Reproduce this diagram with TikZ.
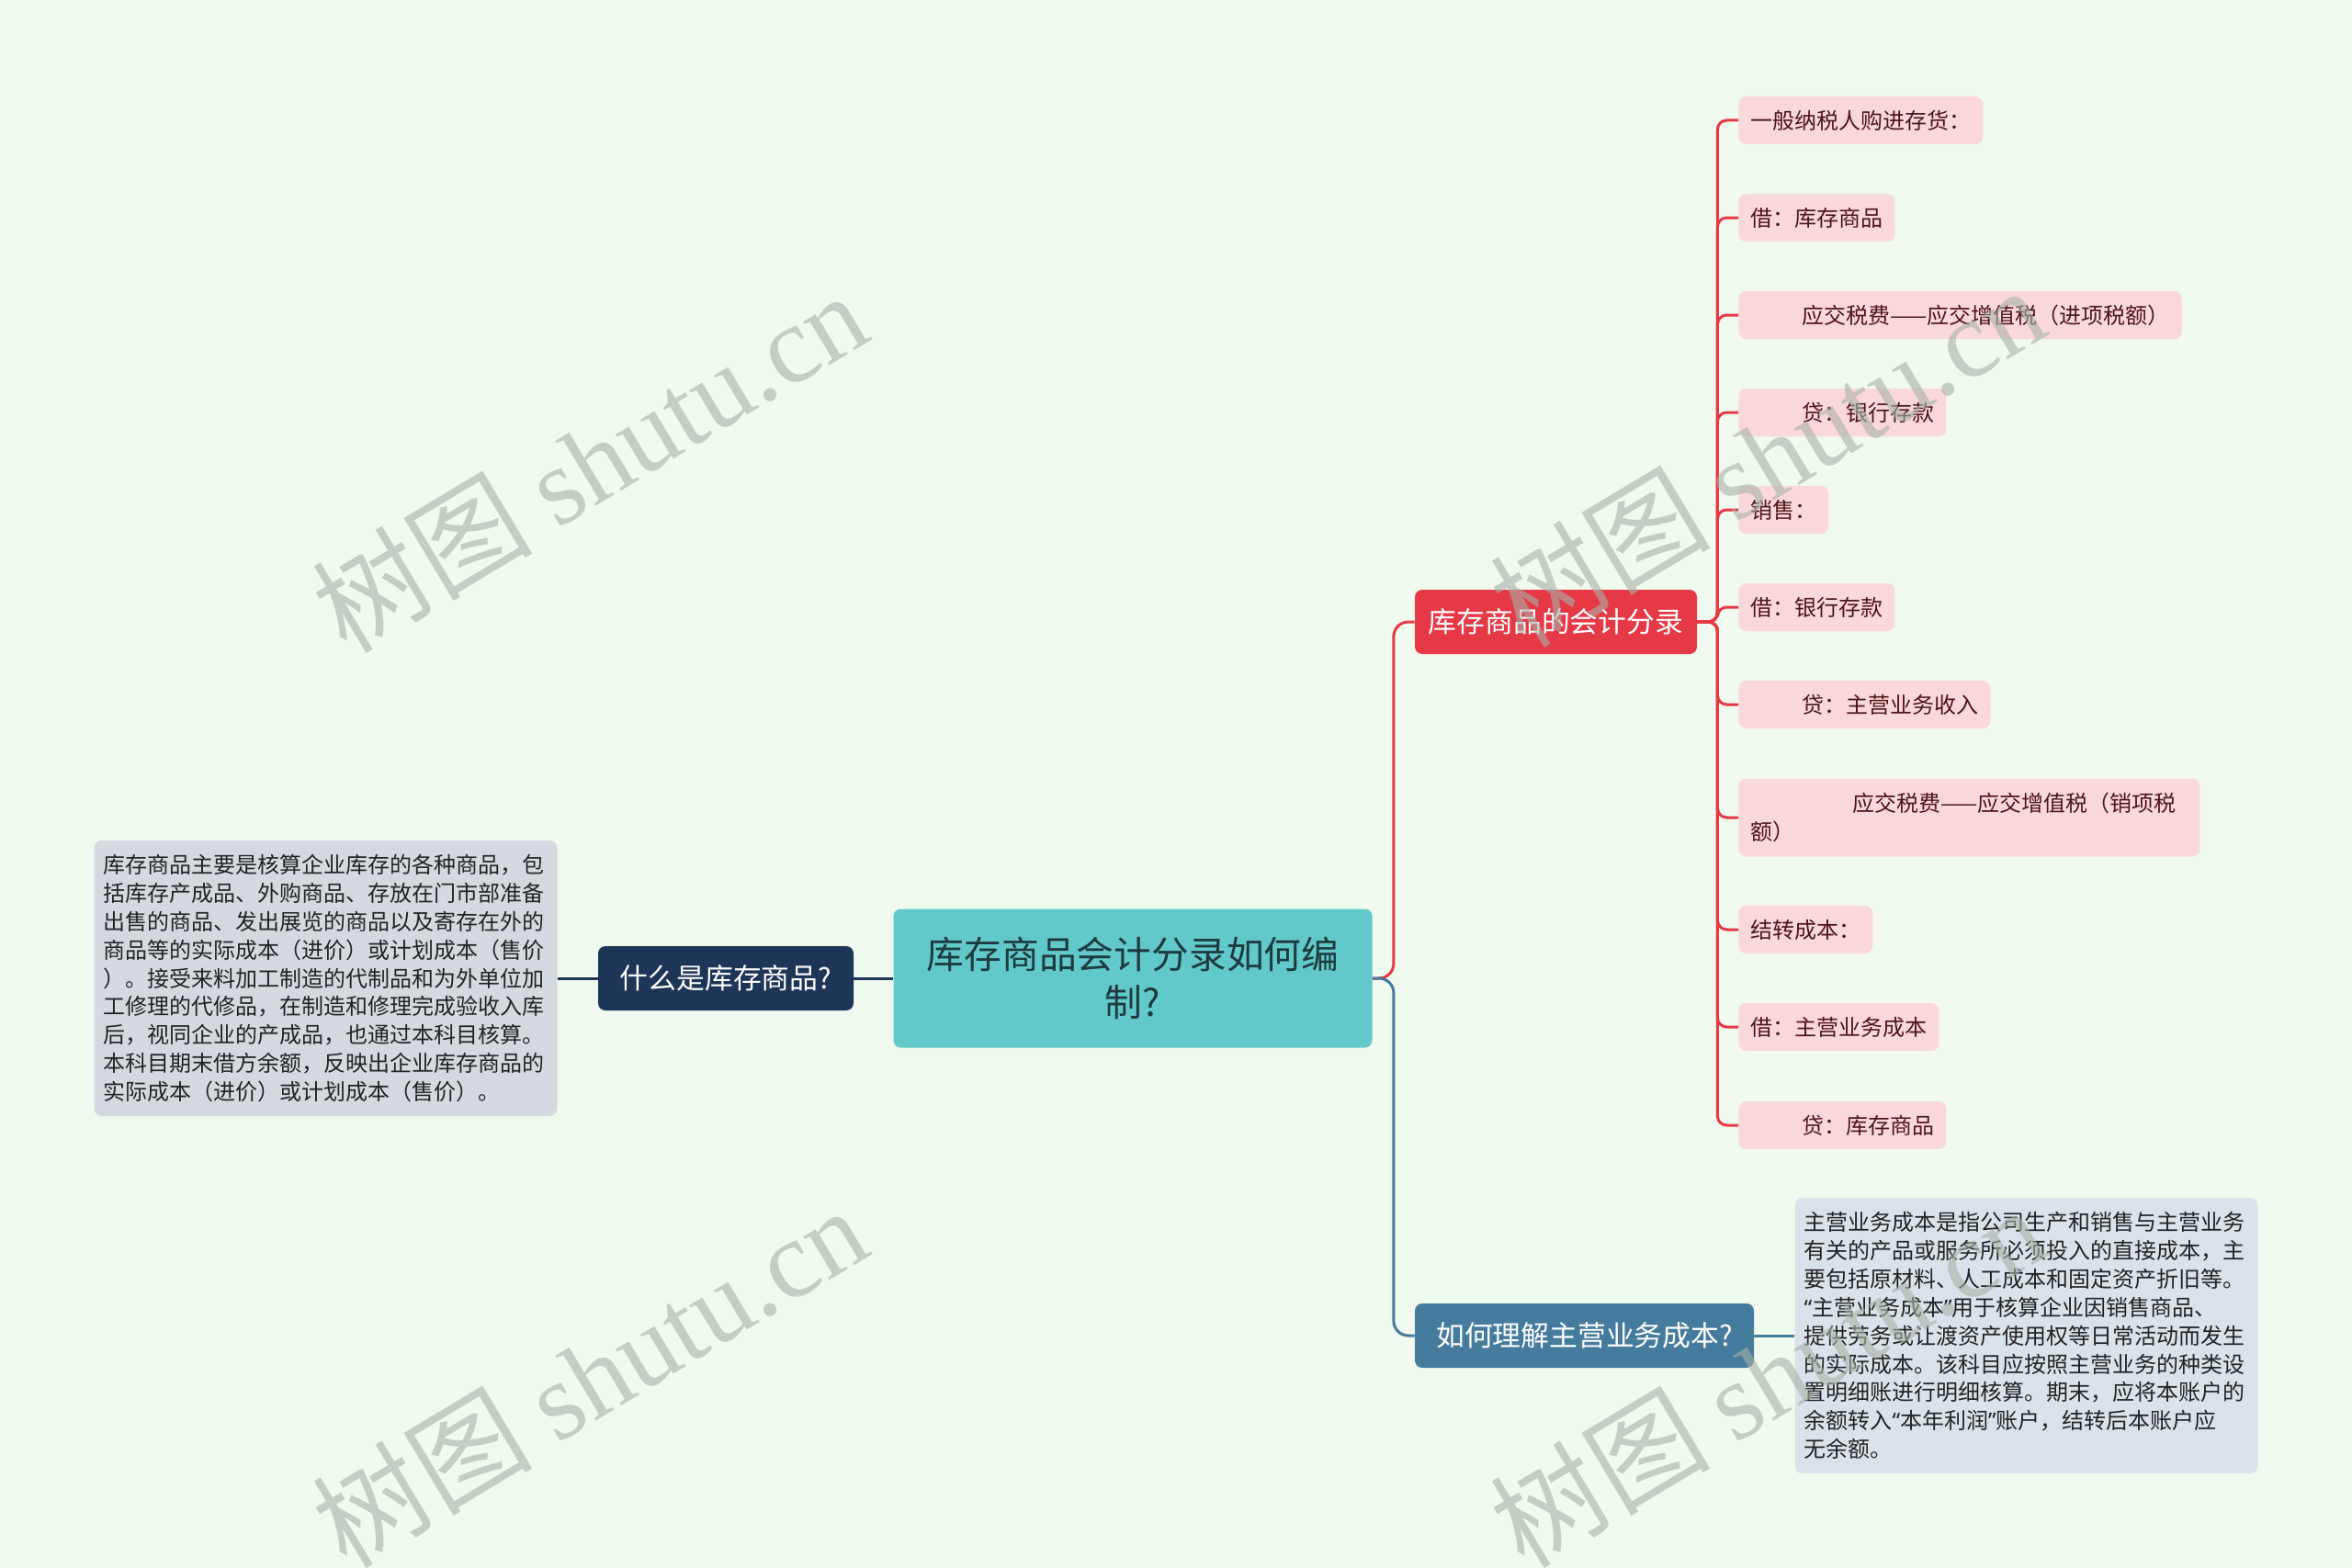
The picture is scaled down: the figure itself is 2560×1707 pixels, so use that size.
\documentclass[tikz,border=0pt]{standalone}
\usepackage{fontspec}
\setmainfont{Noto Sans CJK SC}
\newfontfamily\wmlatin{Liberation Serif}
\newfontfamily\latq{Noto Sans}
\newcommand{\myoq}{{\latq “}}
\newcommand{\mycq}{{\latq ”}}
\definecolor{bgc}{HTML}{F1FAEE}
\definecolor{rootfill}{HTML}{62C9CA}
\definecolor{roottext}{HTML}{1D3A3F}
\definecolor{navy}{HTML}{1D3557}
\definecolor{redc}{HTML}{E63946}
\definecolor{bluec}{HTML}{457B9D}
\definecolor{lboxfill}{HTML}{D5DAE0}
\definecolor{rboxfill}{HTML}{DAE3EA}
\definecolor{kidfill}{HTML}{FAD8DC}
\definecolor{kidtext}{HTML}{4D1418}
\definecolor{boxtext}{HTML}{222222}
\definecolor{wmc}{RGB}{168,178,168}
\begin{document}
\begin{tikzpicture}[x=0.5pt,y=-0.5pt,
  rootbox/.style={fill=rootfill, rounded corners=4pt, minimum width=260.5pt, minimum height=75.5pt,
    text width=240pt, align=center, text=roottext, font=\fontsize{20.4}{26}\selectfont, inner sep=0pt},
  branchbox/.style={rounded corners=4pt, minimum height=35pt, text=white, inner sep=0pt,
    font=\fontsize{15.4}{18}\selectfont},
  tbox/.style={rounded corners=4pt, text width=242pt, inner xsep=5pt, inner ysep=0pt,
    minimum height=150pt, align=left, text=boxtext, font=\fontsize{12}{15.45}\selectfont},
  kid/.style={fill=kidfill, rounded corners=4pt, anchor=west, inner xsep=6.5pt, inner ysep=0pt,
    minimum height=26pt, text=kidtext, font=\fontsize{12}{15.5}\selectfont},
  redln/.style={draw=redc, line width=1.5pt},
  blueln/.style={draw=bluec, line width=1.5pt},
  navyln/.style={draw=navy, line width=1.5pt},
  wmark/.style={rotate=31, text=wmc, text opacity=0.6, inner sep=0pt}
]
\useasboundingbox (0,0) rectangle (2560,1707);
\fill[bgc] (0,0) rectangle (2560,1707);

% root and main branches
\node[rootbox] (root) at (1233,1065) {库存商品会计分录如何编\\制?};
\node[branchbox, fill=navy, minimum width=139pt] (what) at (790,1065) {什么是库存商品?};
\node[tbox, fill=lboxfill] (wbox) at (354.5,1065) {库存商品主要是核算企业库存的各种商品，包\\括库存产成品、外购商品、存放在门市部准备\\出售的商品、发出展览的商品以及寄存在外的\\商品等的实际成本（进价）或计划成本（售价\\）。接受来料加工制造的代制品和为外单位加\\工修理的代修品，在制造和修理完成验收入库\\后，视同企业的产成品，也通过本科目核算。\\本科目期末借方余额，反映出企业库存商品的\\实际成本（进价）或计划成本（售价）。};
\node[branchbox, fill=redc, minimum width=153.5pt] (acc) at (1693.5,677) {库存商品的会计分录};
\node[branchbox, fill=bluec, minimum width=184.5pt] (cost) at (1724.5,1454) {如何理解主营业务成本?};
\node[tbox, fill=rboxfill] (cbox) at (2205.5,1454) {主营业务成本是指公司生产和销售与主营业务\\有关的产品或服务所必须投入的直接成本，主\\要包括原材料、人工成本和固定资产折旧等。\\\myoq 主营业务成本\mycq 用于核算企业因销售商品、\\提供劳务或让渡资产使用权等日常活动而发生\\的实际成本。该科目应按照主营业务的种类设\\置明细账进行明细核算。期末，应将本账户的\\余额转入\myoq 本年利润\mycq 账户，结转后本账户应\\无余额。};

% children of the red branch
\node[kid] (k1) at (1892,131) {一般纳税人购进存货：};
\node[kid] (k2) at (1892,237) {借：库存商品};
\node[kid] (k3) at (1892,343) {\hspace*{28pt}应交税费——应交增值税（进项税额）};
\node[kid] (k4) at (1892,449) {\hspace*{28pt}贷：银行存款};
\node[kid] (k5) at (1892,555) {销售：};
\node[kid] (k6) at (1892,661) {借：银行存款};
\node[kid] (k7) at (1892,767) {\hspace*{28pt}贷：主营业务收入};
\node[kid, text width=238pt, align=left, minimum height=42.5pt] (k8) at (1892,890) {\hspace*{55.5pt}应交税费——应交增值税（销项税\\额）};
\node[kid] (k9) at (1892,1012) {结转成本：};
\node[kid] (k10) at (1892,1118) {借：主营业务成本};
\node[kid] (k11) at (1892,1225) {\hspace*{28pt}贷：库存商品};

% connectors
\draw[navyln] (root.west) -- (what.east);
\draw[navyln] (what.west) -- (wbox.east);
\draw[redln, rounded corners=8pt] (root.east) -- ++(23,0) |- (acc.west);
\draw[blueln, rounded corners=8pt] (root.east) -- ++(23,0) |- (cost.west);
\draw[blueln] (cost.east) -- (cbox.west);
\foreach \k in {k1,k2,k3,k4,k5,k6,k7,k8,k9,k10,k11}
  \draw[redln, rounded corners=5pt] (acc.east) -- ++(22,0) |- (\k.west);

% watermarks
\node[wmark] (wm1) at (641,502) {\fontsize{60}{60}\selectfont 树图 {\wmlatin shutu.cn}};
\node[wmark] (wm2) at (1923,496) {\fontsize{60}{60}\selectfont 树图 {\wmlatin shutu.cn}};
\node[wmark] (wm3) at (641,1498) {\fontsize{60}{60}\selectfont 树图 {\wmlatin shutu.cn}};
\node[wmark] (wm4) at (1923,1498) {\fontsize{60}{60}\selectfont 树图 {\wmlatin shutu.cn}};
\end{tikzpicture}
\end{document}
